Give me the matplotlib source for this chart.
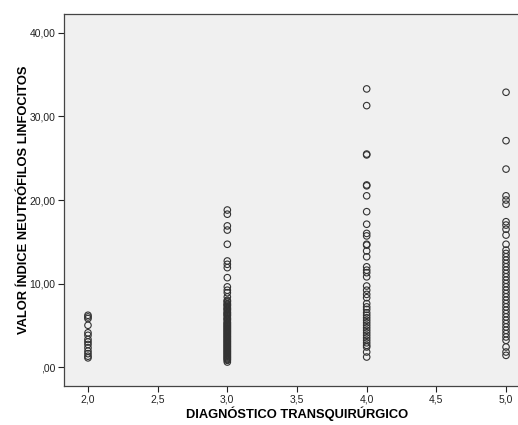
import matplotlib.pyplot as plt

plt.rcParams['font.family'] = ['Liberation Sans', 'DejaVu Sans']

# valores por grupo de diagnóstico
diag_2 = [6.2, 6.0, 5.8, 5.0, 4.1, 3.8, 3.3, 3.0, 2.7, 2.3, 1.9, 1.6, 1.3, 1.1]
diag_3 = [18.8, 18.3, 16.9, 16.4, 14.7, 12.7, 12.3, 11.9, 10.7, 9.6, 9.2, 8.9, 8.4,
          8.0, 7.9, 7.8, 7.6, 7.5, 7.4, 7.3, 7.1, 7.0, 6.9, 6.8, 6.6, 6.5, 6.4,
          6.3, 6.2, 6.1, 5.9, 5.8, 5.7, 5.6, 5.4, 5.3, 5.2, 5.1, 5.0, 4.9, 4.8,
          4.7, 4.6, 4.5, 4.4, 4.3, 4.2, 4.1, 4.0, 3.9, 3.8, 3.7, 3.6, 3.5, 3.4,
          3.3, 3.2, 3.1, 3.0, 2.9, 2.8, 2.7, 2.6, 2.5, 2.4, 2.3, 2.2, 2.1, 2.0,
          1.9, 1.8, 1.7, 1.6, 1.5, 1.4, 1.3, 1.2, 1.1, 1.0, 0.9, 0.8, 0.6]
diag_4 = [33.3, 31.3, 25.5, 25.4, 21.8, 21.7, 20.5, 18.6, 17.1, 16.0, 15.7, 14.7,
          14.6, 13.9, 13.2, 12.0, 11.6, 11.3, 10.8, 9.7, 9.2, 8.7, 8.3, 7.6,
          7.2, 6.9, 6.5, 6.2, 5.9, 5.6, 5.3, 5.0, 4.7, 4.4, 4.1, 3.8, 3.5, 3.2,
          2.9, 2.6, 2.4, 1.8, 1.2]
diag_5 = [32.9, 27.1, 23.7, 20.5, 20.0, 19.5, 17.4, 17.0, 16.5, 15.8, 14.7, 14.0,
          13.6, 13.2, 12.8, 12.4, 12.0, 11.6, 11.2, 10.8, 10.4, 10.0, 9.6, 9.2,
          8.8, 8.4, 8.0, 7.6, 7.2, 6.8, 6.4, 6.0, 5.6, 5.2, 4.8, 4.4, 4.0, 3.6,
          3.2, 2.4, 1.8, 1.4]

grupos = [2.0, 3.0, 4.0, 5.0]
valores = [diag_2, diag_3, diag_4, diag_5]

x_ticks = [2.0, 2.5, 3.0, 3.5, 4.0, 4.5, 5.0]
x_labels = ['2,0', '2,5', '3,0', '3,5', '4,0', '4,5', '5,0']
y_ticks = [0, 10, 20, 30, 40]
y_labels = [',00', '10,00', '20,00', '30,00', '40,00']

fig = plt.figure(figsize=(5.18, 4.25), dpi=100)
ax = fig.add_axes([64 / 518, 39 / 425, 466 / 518, 372 / 425])
ax.set_facecolor('#f0f0f0')

for g, vals in zip(grupos, valores):
    ax.scatter([g] * len(vals), vals, s=22, facecolors='none',
               edgecolors='#333333', linewidths=0.8, zorder=3)

ax.set_xlim(1.828, 5.172)
ax.set_ylim(-2.27, 42.27)
ax.set_xticks(x_ticks)
ax.set_xticklabels(x_labels)
ax.set_yticks(y_ticks)
ax.set_yticklabels(y_labels)
ax.tick_params(direction='out', length=4, width=0.8, labelsize=7.5,
               colors='#222222', pad=2)

for side in ['left', 'bottom', 'top']:
    ax.spines[side].set_color('#444444')
    ax.spines[side].set_linewidth(0.9)
ax.spines['right'].set_visible(False)

ax.set_xlabel('DIAGNÓSTICO TRANSQUIRÚRGICO', fontsize=9.3, fontweight='bold',
              labelpad=1.5)
ax.set_ylabel('VALOR ÍNDICE NEUTRÓFILOS LINFOCITOS', fontsize=9.3,
              fontweight='bold', labelpad=0)

fig.savefig('out.png', dpi=100)
